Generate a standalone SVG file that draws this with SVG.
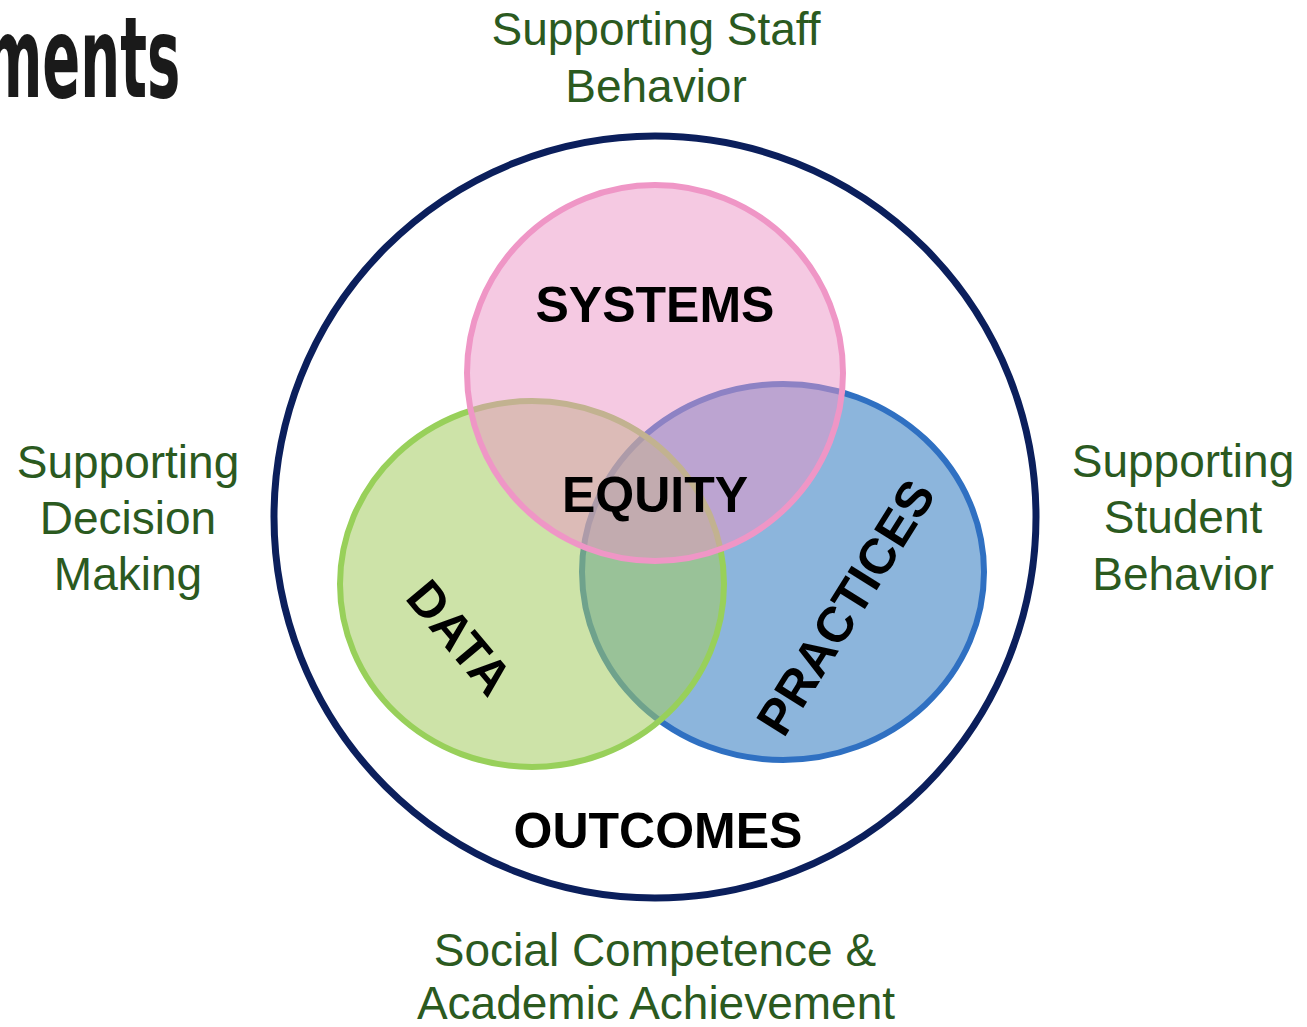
<svg xmlns="http://www.w3.org/2000/svg" width="1307" height="1027" viewBox="0 0 1307 1027">
<style>
.lbl{font-family:"Liberation Sans",Arial,sans-serif;font-size:46px;fill:#2b5a1f;text-anchor:middle}
.big{font-family:"Liberation Sans",Arial,sans-serif;font-size:50px;font-weight:bold;fill:#000;text-anchor:middle}
</style>
<rect width="1307" height="1027" fill="#fff"/>
<g id="title">
<text transform="translate(-16,97) scale(0.7,1.4)" font-family="DejaVu Sans" font-weight="bold" font-size="80" fill="#1a1a1a">ments</text>
</g>
<g id="outer">
<circle cx="655" cy="517" r="381" fill="#fff" stroke="#0b1f5c" stroke-width="7"/>
</g>
<g id="practices">
<ellipse cx="783" cy="572" rx="201" ry="188" fill="#8cb5dc" stroke="#2f70c2" stroke-width="6"/>
</g>
<g id="data">
<ellipse cx="532" cy="584" rx="192" ry="183" fill="#a4cc61" fill-opacity="0.55" stroke="#98d05a" stroke-width="6"/>
</g>
<g id="systems">
<circle cx="655" cy="373" r="188" fill="#eb93c5" fill-opacity="0.5" stroke="#ef96c6" stroke-width="6"/>
</g>
<g id="labels">
<text class="big" x="655" y="322">SYSTEMS</text>
<text class="big" x="655" y="512">EQUITY</text>
<text class="big" x="658" y="848">OUTCOMES</text>
<text class="big" transform="translate(460,637) rotate(50)" y="18">DATA</text>
<text class="big" transform="translate(845,607) rotate(-58)" y="18">PRACTICES</text>
</g>
<g id="outer-labels">
<text class="lbl" x="656" y="45">Supporting Staff</text>
<text class="lbl" x="656" y="102">Behavior</text>
<text class="lbl" x="128" y="478">Supporting</text>
<text class="lbl" x="128" y="534">Decision</text>
<text class="lbl" x="128" y="590">Making</text>
<text class="lbl" x="1183" y="477">Supporting</text>
<text class="lbl" x="1183" y="533">Student</text>
<text class="lbl" x="1183" y="590">Behavior</text>
<text class="lbl" x="655" y="966">Social Competence &amp;</text>
<text class="lbl" x="656" y="1019">Academic Achievement</text>
</g>
<g id="connectors"/>
</svg>
